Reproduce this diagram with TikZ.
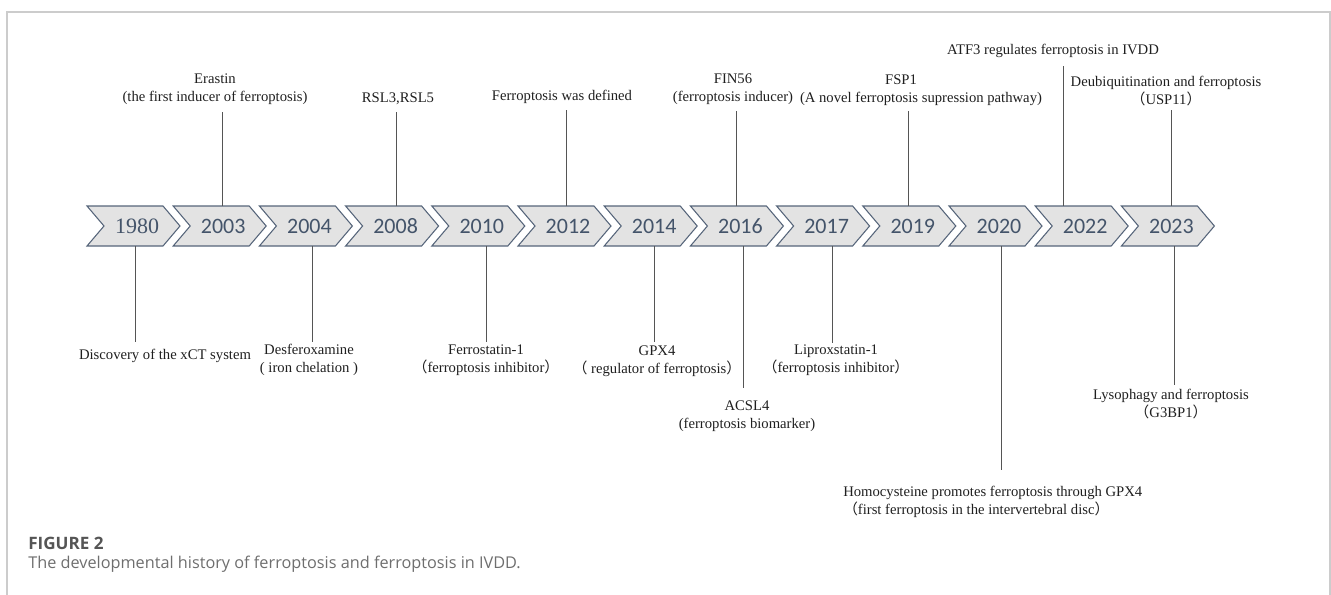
\documentclass[tikz,border=0pt]{standalone}
\usepackage{fontspec}
\setmainfont{Liberation Serif}
\newfontfamily\yearfont{Carlito}
\newfontfamily\capfont{Open Sans}
\newfontfamily\cjk{Noto Sans CJK SC}
\newcommand{\flp}{{\cjk （}}
\newcommand{\frp}{{\cjk ）}}
\definecolor{yrtext}{HTML}{44546A}
\definecolor{chevfill}{HTML}{E3E3E3}
\definecolor{chevline}{HTML}{56657A}
\definecolor{connc}{HTML}{555555}
\definecolor{framec}{HTML}{CCCCCC}
\definecolor{capA}{HTML}{555555}
\definecolor{capB}{HTML}{6E6E6E}
\tikzset{
  chev/.style={draw=chevline, fill=chevfill, line width=0.8pt, line join=miter},
  yr/.style={text=yrtext, minimum width=60pt, minimum height=30pt, inner sep=0pt, font=\fontsize{16.5}{18}\selectfont},
  lbl/.style={font=\fontsize{11}{13.5}\selectfont, align=center, inner sep=0pt, text=black!88},
  conn/.style={draw=connc, line width=0.6pt},
  frm/.style={draw=framec, line width=0.8pt}
}
\begin{document}
\begin{tikzpicture}[x=0.75pt, y=-0.75pt]
\useasboundingbox (0,0) rectangle (1331,594);
\draw[frm] (7,620) -- (7,12) -- (1330,12) -- (1330,620);
% chevrons and years
\foreach \i/\yy/\ff in {0/1980/\rmfamily,1/2003/\yearfont,2/2004/\yearfont,3/2008/\yearfont,4/2010/\yearfont,5/2012/\yearfont,6/2014/\yearfont,7/2016/\yearfont,8/2017/\yearfont,9/2019/\yearfont,10/2020/\yearfont,11/2022/\yearfont,12/2023/\yearfont}{
  \pgfmathsetmacro\c{133.5+86.2*\i}
  \draw[chev] (\c-46.5,206) -- (\c+29.5,206) -- (\c+46.5,226) -- (\c+29.5,246) -- (\c-46.5,246) -- (\c-29.5,226) -- cycle;
  \node[yr] (y\yy) at (\c+3.5,226) {\ff\yy};
}
% upper labels
\node[lbl] (tErastin) at (215,89.5) {Erastin\\(the first inducer of ferroptosis)};
\node[lbl] (tRSL) at (398,99) {RSL3,RSL5};
\node[lbl] (tDef) at (562,97) {Ferroptosis was defined};
\node[lbl] (tFIN) at (733,89) {FIN56\\(ferroptosis inducer)};
\node[lbl] (tFSP) at (921,90) {FSP1\hspace*{30pt}\null\\(A novel ferroptosis supression pathway)};
\node[lbl] (tATF) at (1053,51) {ATF3 regulates ferroptosis in IVDD};
\node[lbl] (tDeub) at (1166,91.5) {Deubiquitination and ferroptosis\\\flp USP11\frp};
% lower labels
\node[lbl] (tDisc) at (165,356) {Discovery of the xCT system};
\node[lbl] (tDesf) at (309,360) {Desferoxamine\\( iron chelation )};
\node[lbl] (tFer) at (486,360) {Ferrostatin-1\\\flp ferroptosis inhibitor\frp};
\node[lbl] (tGPX) at (657,361.5) {GPX4\\\flp\ regulator of ferroptosis\frp};
\node[lbl] (tACSL) at (747,416) {ACSL4\\(ferroptosis biomarker)};
\node[lbl] (tLip) at (836,360) {Liproxstatin-1\\\flp ferroptosis inhibitor\frp};
\node[lbl, align=left, anchor=west] (tHomo) at (843,502) {Homocysteine promotes ferroptosis through GPX4\\\flp first ferroptosis in the intervertebral disc\frp};
\node[lbl] (tLyso) at (1171,404.5) {Lysophagy and ferroptosis\\\flp G3BP1\frp};
% connector ends
\coordinate (aErastin) at (222,112);
\coordinate (aRSL) at (396,112);
\coordinate (aDef) at (566,110);
\coordinate (aFIN) at (736,111);
\coordinate (aFSP) at (908,111);
\coordinate (aATF) at (1063,66);
\coordinate (aDeub) at (1171,110);
\coordinate (bDisc) at (135,342);
\coordinate (bDesf) at (312,342);
\coordinate (bFer) at (486,342);
\coordinate (bGPX) at (654,342);
\coordinate (bACSL) at (743,388);
\coordinate (bLip) at (832,343);
\coordinate (bHomo) at (1001,470);
\coordinate (bLyso) at (1174,385);
\draw[conn] (aErastin) -- (aErastin |- y2003.north);
\draw[conn] (aRSL) -- (aRSL |- y2008.north);
\draw[conn] (aDef) -- (aDef |- y2012.north);
\draw[conn] (aFIN) -- (aFIN |- y2016.north);
\draw[conn] (aFSP) -- (aFSP |- y2019.north);
\draw[conn] (aATF) -- (aATF |- y2022.north);
\draw[conn] (aDeub) -- (aDeub |- y2023.north);
\draw[conn] (bDisc |- y1980.south) -- (bDisc);
\draw[conn] (bDesf |- y2004.south) -- (bDesf);
\draw[conn] (bFer |- y2010.south) -- (bFer);
\draw[conn] (bGPX |- y2014.south) -- (bGPX);
\draw[conn] (bACSL |- y2016.south) -- (bACSL);
\draw[conn] (bLip |- y2017.south) -- (bLip);
\draw[conn] (bHomo |- y2020.south) -- (bHomo);
\draw[conn] (bLyso |- y2023.south) -- (bLyso);
% caption
\node[anchor=west, inner sep=0pt, text=capA, font=\capfont\bfseries\fontsize{12.8}{14}\selectfont] (fig) at (28,543) {FIGURE 2};
\node[anchor=west, inner sep=0pt, text=capB, font=\capfont\fontsize{12.2}{14}\selectfont] (cap) at (28,564) {The developmental history of ferroptosis and ferroptosis in IVDD.};
\end{tikzpicture}
\end{document}
